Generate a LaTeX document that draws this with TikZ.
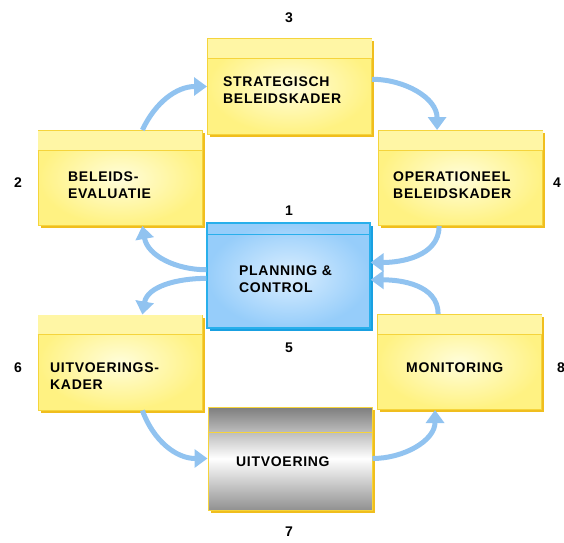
\documentclass[tikz,border=0pt]{standalone}
\usepackage{fontspec}
\setmainfont{Liberation Sans}
\usepackage{tikz}
\usetikzlibrary{calc,shadows,arrows.meta}

\definecolor{yinner}{RGB}{255,253,218}
\definecolor{youter}{RGB}{255,242,130}
\definecolor{yhead}{RGB}{255,246,165}
\definecolor{yline}{RGB}{245,212,60}
\definecolor{yshadow}{RGB}{240,190,30}
\definecolor{binner}{RGB}{218,238,255}
\definecolor{bouter}{RGB}{150,205,250}
\definecolor{bline}{RGB}{40,175,235}
\definecolor{bshadow}{RGB}{25,160,225}
\definecolor{gdark}{RGB}{125,125,125}
\definecolor{glight}{RGB}{145,145,145}
\definecolor{arrowblue}{RGB}{145,195,240}

\newcommand{\boxfont}{\fontsize{14}{17}\selectfont\bfseries\addfontfeatures{LetterSpace=5}}

\begin{document}
\begin{tikzpicture}[x=1pt,y=1pt,
    ybox/.style={draw=yline,line width=1pt,inner color=yinner,outer color=youter,
      minimum width=164pt,minimum height=95pt,
      general shadow={fill=yshadow,shadow xshift=2.5pt,shadow yshift=-2.5pt}},
    bbox/.style={draw=bline,line width=1.2pt,inner color=binner,outer color=bouter,
      minimum width=163pt,minimum height=105pt,
      general shadow={fill=bshadow,shadow xshift=3pt,shadow yshift=-2.5pt}},
    gbox/.style={draw=yline,line width=1pt,top color=gdark,bottom color=glight,middle color=white,
      minimum width=164pt,minimum height=103pt,
      general shadow={fill=yshadow,shadow xshift=2.5pt,shadow yshift=-2.5pt}},
    hdr/.style={draw=yline,line width=0.8pt},
    txt/.style={anchor=west,align=left,inner sep=0pt,font=\boxfont},
    num/.style={font=\fontsize{14}{17}\selectfont\bfseries},
    flow/.style={draw=arrowblue,line width=5pt,-{Triangle[length=13pt,width=18pt]}}]
  \useasboundingbox (0,0) rectangle (564,542);

  \node[ybox] (B3) at (289.5,455.5) {};
  \node[ybox] (B2) at (120,364) {};
  \node[ybox] (B4) at (460.5,364) {};
  \node[bbox] (B1) at (288.5,266.5) {};
  \node[ybox] (B6) at (120,179.5) {};
  \node[ybox] (B8) at (459.5,180) {};
  \node[gbox] (B7) at (290,83.5) {};

  \foreach \b in {B3,B2,B4,B6,B8} {
    \fill[yhead] ([shift={(0.5,-0.5)}]\b.north west) rectangle ([shift={(-0.5,-20)}]\b.north east);
    \draw[hdr] ([yshift=-20pt]\b.north west) -- ([yshift=-20pt]\b.north east);
  }
  \draw[bline,line width=0.8pt] ([yshift=-12pt]B1.north west) -- ([yshift=-12pt]B1.north east);
  \draw[hdr] ([yshift=-26pt]B7.north west) -- ([yshift=-26pt]B7.north east);

  \node[txt] (T3) at (223,451.5) {STRATEGISCH\\BELEIDSKADER};
  \node[txt] (T2) at (68,357) {BELEIDS-\\EVALUATIE};
  \node[txt] (T4) at (393,357) {OPERATIONEEL\\BELEIDSKADER};
  \node[txt] (T1) at (239,263) {PLANNING \&\\CONTROL};
  \node[txt] (T6) at (50,166) {UITVOERINGS-\\KADER};
  \node[txt] (T8) at (406,174) {MONITORING};
  \node[txt] (T7) at (236,80) {UITVOERING};

  \node[num] (N3) at (289,524) {3};
  \node[num] (N2) at (18,359) {2};
  \node[num] (N4) at (557,359) {4};
  \node[num] (N1) at (289,331) {1};
  \node[num] (N5) at (289,194) {5};
  \node[num] (N6) at (18,174) {6};
  \node[num] (N8) at (561,174) {8};
  \node[num] (N7) at (289,10) {7};

  \draw[flow] (B2.65) to[out=65,in=180] (B3.west);
  \draw[flow] (B3.5) to[out=0,in=90] (B4.116);
  \draw[flow] (B1.176) to[out=180,in=-80] (B2.295);
  \draw[flow] (B1.182) to[out=180,in=80] (B6.65);
  \draw[flow] (B4.246) to[out=-90,in=0] (B1.9);
  \draw[flow] (B8.114) to[out=90,in=0] (B1.357);
  \draw[flow] (B6.295) to[out=-70,in=180] (B7.west);
  \draw[flow] (B7.east) to[out=0,in=-90] (B8.243);
\end{tikzpicture}
\end{document}
